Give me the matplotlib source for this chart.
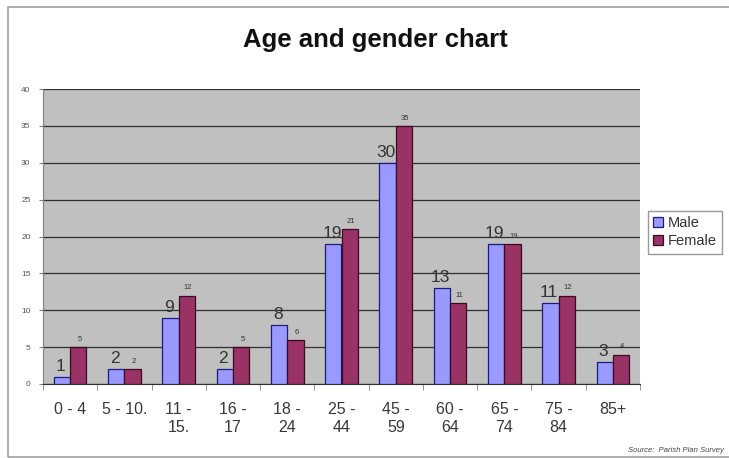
import matplotlib
matplotlib.use("Agg")
import matplotlib.pyplot as plt
import numpy as np
from matplotlib.patches import Rectangle

plt.rcParams['font.family'] = ['Liberation Sans', 'DejaVu Sans']

# Age bands and head counts per gender
age_bands = ["0 - 4", "5 - 10.", "11 -\n15.", "16 -\n17", "18 -\n24", "25 -\n44",
             "45 -\n59", "60 -\n64", "65 -\n74", "75 -\n84", "85+"]
male = [1, 2, 9, 2, 8, 19, 30, 13, 19, 11, 3]
female = [5, 2, 12, 5, 6, 21, 35, 11, 19, 12, 4]
y_ticks = [0, 5, 10, 15, 20, 25, 30, 35, 40]

male_color = "#9999FF"
female_color = "#993366"

W, H = 729, 458
fig = plt.figure(figsize=(W / 100, H / 100), dpi=100)
fig.patch.set_facecolor("white")

# outer chart frame
fig.patches.append(Rectangle((8 / W, 1 - 457 / H), (W + 20 - 8) / W, (457 - 7) / H,
                             transform=fig.transFigure, fill=False,
                             edgecolor="#A0A0A0", linewidth=1.2, clip_on=False))

ax = fig.add_axes([43 / W, 1 - 384 / H, (640 - 43) / W, (384 - 89) / H])
ax.set_facecolor("#C0C0C0")

x = np.arange(len(age_bands))
bw = 0.3
bars_m = ax.bar(x - bw / 2, male, bw, color=male_color, edgecolor="#1A1A80",
                linewidth=0.9, label="Male", zorder=3)
bars_f = ax.bar(x + bw / 2, female, bw, color=female_color, edgecolor="#3A0A20",
                linewidth=0.9, label="Female", zorder=3)

for b, v in zip(bars_m, male):
    ax.annotate(str(v), (b.get_x() + b.get_width() / 2, v), xytext=(-1, 2),
                textcoords="offset points", ha="center", va="bottom",
                fontsize=12.5, color="#333333", zorder=4)
for b, v in zip(bars_f, female):
    ax.annotate(str(v), (b.get_x() + b.get_width() / 2, v), xytext=(1, 3),
                textcoords="offset points", ha="center", va="bottom",
                fontsize=5.5, color="#333333", zorder=4)

ax.set_xlim(-0.5, len(age_bands) - 0.5)
ax.set_ylim(0, 40)
ax.set_yticks(y_ticks)
ax.set_yticklabels([str(t) for t in y_ticks], fontsize=6, color="#555555")
ax.yaxis.grid(True, color="#303030", linewidth=0.9, zorder=1)
ax.set_axisbelow(True)

ax.set_xticks(x)
ax.set_xticklabels(age_bands, fontsize=11.5, color="#383838", linespacing=1.25)
ax.tick_params(axis="x", length=0, pad=13)
ax.set_xticks(np.arange(len(age_bands) + 1) - 0.5, minor=True)
ax.tick_params(axis="x", which="minor", length=4, color="#808080")
ax.tick_params(axis="y", length=3, color="#808080", pad=6)

for s in ["top", "right"]:
    ax.spines[s].set_visible(False)
ax.spines["left"].set_color("#808080")
ax.spines["bottom"].set_color("#303030")

fig.text(375 / W, 1 - 40 / H, "Age and gender chart", ha="center", va="center",
         fontsize=18.5, fontweight="bold", color="#111111")

leg = fig.legend(loc="upper left", bbox_to_anchor=(648 / W, 1 - 211 / H),
                 fontsize=10.5, frameon=True, fancybox=False, edgecolor="#808080",
                 handlelength=0.7, handleheight=0.7, handletextpad=0.3,
                 borderpad=0.35, labelspacing=0.3, borderaxespad=0)
for t in leg.get_texts():
    t.set_color("#333333")

fig.text(724 / W, 1 - 451 / H, "Source:  Parish Plan Survey", ha="right", va="center",
         fontsize=5.5, style="italic", color="#444444")

fig.savefig("out.png", dpi=100)
